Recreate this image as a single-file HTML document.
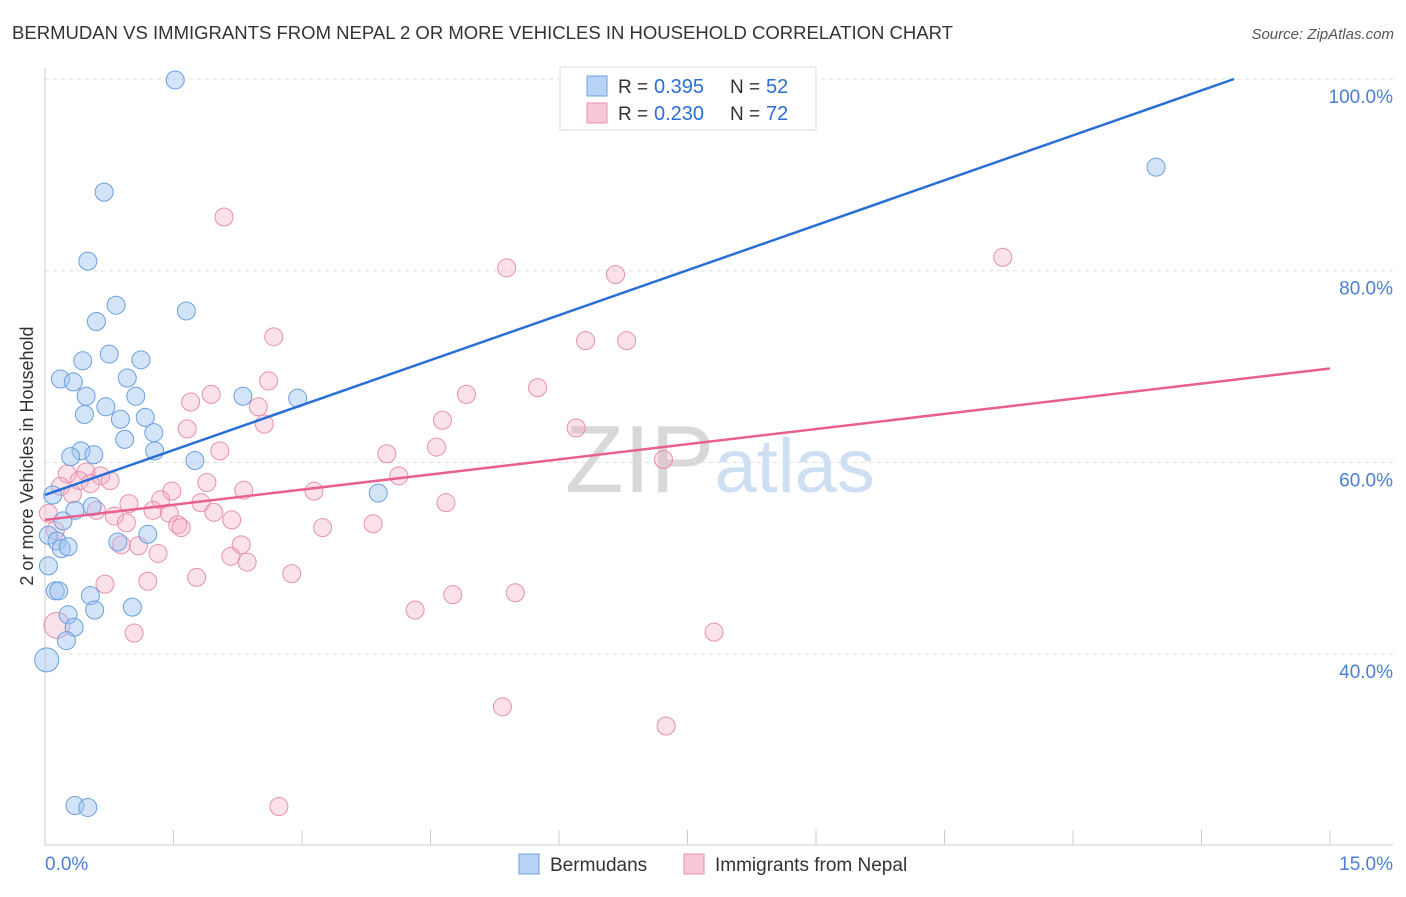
<!DOCTYPE html>
<html><head><meta charset="utf-8"><style>
body{margin:0;background:#fff;font-family:"Liberation Sans",sans-serif;}
svg text{font-family:"Liberation Sans",sans-serif;}
</style></head><body>
<svg width="1406" height="892">
<text x="12" y="39" font-size="18" fill="#333" textLength="941" lengthAdjust="spacingAndGlyphs">BERMUDAN VS IMMIGRANTS FROM NEPAL 2 OR MORE VEHICLES IN HOUSEHOLD CORRELATION CHART</text>
<text x="1394" y="39" font-size="15" fill="#555" font-style="italic" text-anchor="end">Source: ZipAtlas.com</text>
<text x="33" y="456" font-size="18" fill="#333" text-anchor="middle" transform="rotate(-90 33 456)">2 or more Vehicles in Household</text>
<text x="720" y="492" font-size="96" fill="#ddd" text-anchor="middle" font-family="Liberation Serif"><tspan fill="#d8d8d8">ZIP</tspan><tspan fill="#cfdff3" font-family="Liberation Sans" font-size="76">atlas</tspan></text>
<g id="grid"></g><g id="axes"></g><g id="pts"></g><g id="lines"></g>
<g>
<rect x="560" y="67" width="256" height="63" fill="#fff" stroke="#ddd"/>
<rect x="587" y="76" width="20" height="20" fill="#b8d3f5" stroke="#6a9fe0"/>
<text x="618" y="93" font-size="19" fill="#333">R =</text>
<text x="654" y="93" font-size="20" fill="#2a6fd6">0.395</text>
<text x="730" y="93" font-size="19" fill="#333">N =</text>
<text x="766" y="93" font-size="20" fill="#2a6fd6">52</text>
<rect x="587" y="103" width="20" height="20" fill="#f9c8d8" stroke="#e890b0"/>
<text x="618" y="120" font-size="19" fill="#333">R =</text>
<text x="654" y="120" font-size="20" fill="#2a6fd6">0.230</text>
<text x="730" y="120" font-size="19" fill="#333">N =</text>
<text x="766" y="120" font-size="20" fill="#2a6fd6">72</text>
</g>
<g>
<rect x="519" y="854" width="20" height="20" fill="#b8d3f5" stroke="#6a9fe0"/>
<text x="550" y="871" font-size="19" fill="#333">Bermudans</text>
<rect x="684" y="854" width="20" height="20" fill="#f9c8d8" stroke="#e890b0"/>
<text x="715" y="871" font-size="19" fill="#333">Immigrants from Nepal</text>
</g>
</svg>
<script>
const yTicks=[100,80,60,40];
const yTickLabels=["100.0%","80.0%","60.0%","40.0%"];
const xTickLabels=["0.0%","15.0%"];
const blueX=[1.52,0.69,0.50,0.83,1.65,0.60,0.75,1.12,0.44,0.18,0.33,0.96,0.48,1.06,2.31,2.95,0.71,0.46,0.88,1.17,1.27,0.93,0.42,1.28,0.30,0.57,1.75,3.89,0.09,0.35,0.55,0.21,0.04,1.20,0.85,0.14,0.19,0.27,0.04,0.12,0.16,0.53,1.02,0.58,0.27,0.34,0.25,0.02,0.35,0.50,12.97];
const blueY=[99.9,88.2,81.0,76.4,75.8,74.7,71.3,70.7,70.6,68.7,68.4,68.8,66.9,66.9,66.9,66.7,65.8,65.0,64.5,64.7,63.1,62.4,61.2,61.2,60.6,60.8,60.2,56.8,56.6,55.0,55.4,53.9,52.4,52.5,51.7,51.8,51.0,51.2,49.2,46.6,46.6,46.1,44.9,44.6,44.1,42.8,41.4,39.4,24.2,24.0,90.8];
const pinkX=[2.09,5.39,11.18,6.66,2.67,6.31,6.79,2.61,5.75,1.94,1.70,4.92,2.49,4.64,2.56,1.66,6.20,4.57,2.04,3.99,7.22,4.13,0.26,0.48,0.65,0.40,0.53,0.76,0.18,1.89,1.48,2.32,3.14,1.35,0.32,0.98,1.82,4.68,0.60,1.26,1.45,1.97,0.04,0.81,0.95,2.18,1.55,1.59,3.83,3.24,0.12,0.89,1.09,2.29,2.17,1.32,2.36,2.88,1.77,1.20,0.70,4.76,5.49,4.32,1.04,7.81,0.14,5.34,7.25,2.73];
const pinkY=[85.6,80.3,81.4,79.6,73.1,72.7,72.7,68.5,67.8,67.1,66.3,67.1,65.8,64.4,64.0,63.5,63.6,61.6,61.2,60.9,60.3,58.6,58.8,59.0,58.6,58.1,57.8,58.1,57.5,57.9,57.0,57.1,57.0,56.1,56.7,55.7,55.8,55.8,55.0,55.0,54.7,54.8,54.7,54.4,53.7,54.0,53.5,53.2,53.6,53.2,52.9,51.4,51.3,51.4,50.2,50.5,49.6,48.4,48.0,47.6,47.3,46.2,46.4,44.6,42.2,42.3,43.0,34.5,32.5,24.1];
const blueLine=[56.6,103.5];
const pinkLine=[54.0,69.8];
const NS="http://www.w3.org/2000/svg";
const X=v=>45+v/15*1285;
const Y=v=>79+(100-v)/20*191.7;
function mk(t,a,p){const e=document.createElementNS(NS,t);for(const k in a)e.setAttribute(k,a[k]);p.appendChild(e);return e;}
const grid=document.getElementById('grid'),axes=document.getElementById('axes'),pts=document.getElementById('pts'),lines=document.getElementById('lines');
yTicks.forEach((v,i)=>{
 const l=mk('line',{x1:45,x2:1393,y1:Y(v),y2:Y(v),stroke:'#ddd','stroke-dasharray':'4,4'},grid);
 
 
 const t=mk('text',{x:1393,y:Y(v)+24,'font-size':19,fill:'#4a7fd4','text-anchor':'end'},axes);
 t.textContent=yTickLabels[i];
 
 
});
mk('line',{x1:45,x2:45,y1:68,y2:845,stroke:'#ccc'},axes);
mk('line',{x1:45,x2:1393,y1:845,y2:845,stroke:'#ccc'},axes);
for(let i=0;i<=10;i++){const xx=45+i*128.5;mk('line',{x1:xx,x2:xx,y1:830,y2:845,stroke:'#ccc'},axes);}
let t0=mk('text',{x:45,y:870,'font-size':19,fill:'#4a7fd4'},axes);t0.textContent=xTickLabels[0];


let t1=mk('text',{x:1393,y:870,'font-size':19,fill:'#4a7fd4','text-anchor':'end'},axes);t1.textContent=xTickLabels[1];


pinkX.forEach((x,i)=>{
 const c=mk('circle',{cx:X(x),cy:Y(pinkY[i]),r:(i==66?13:9),fill:'rgba(244,170,195,0.35)',stroke:'#e890b0','stroke-width':1},pts);
 
 
});
blueX.forEach((x,i)=>{
 const c=mk('circle',{cx:X(x),cy:Y(blueY[i]),r:(i==47?12:9),fill:'rgba(160,196,240,0.45)',stroke:'#6a9fe0','stroke-width':1},pts);
 
 
});
const bx2=(100-blueLine[0])/((blueLine[1]-blueLine[0])/15);
const bl=mk('line',{x1:X(0),y1:Y(blueLine[0]),x2:X(bx2),y2:Y(100),stroke:'#2a6fd6','stroke-width':2.5},lines);


const pl=mk('line',{x1:X(0),y1:Y(pinkLine[0]),x2:X(15),y2:Y(pinkLine[1]),stroke:'#e8608f','stroke-width':2.5},lines);


</script>
</body></html>
